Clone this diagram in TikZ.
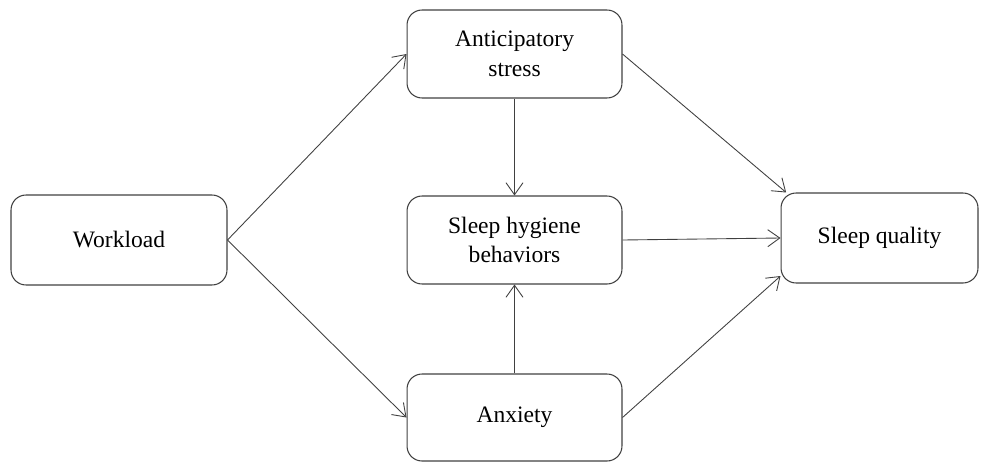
\documentclass[tikz,border=0pt]{standalone}
\usepackage{fontspec}
\setmainfont{Liberation Serif}
\usetikzlibrary{arrows.meta}
\begin{document}
\begin{tikzpicture}[x=0.02cm, y=-0.02cm,
  box/.style={shape=rectangle, rounded corners=0.3cm, draw=black!75, line width=0.6pt,
    minimum width=4.3cm, minimum height=1.76cm, align=center,
    font=\fontsize{13.4}{16.8}\selectfont},
  >={Straight Barb[length=2.4mm,width=3.4mm]}]
\useasboundingbox (0,0) rectangle (986,463);
\node (W) at (119,240) [box, minimum width=4.32cm, minimum height=1.8cm]{Workload};
\node (A) at (514.5,54) [box]{Anticipatory\\stress};
\node (H) at (514.5,240) [box]{Sleep hygiene\\behaviors};
\node (X) at (514.5,417.5) [box, minimum height=1.74cm]{Anxiety};
\node (Q) at (879.5,238) [box, minimum width=3.94cm, minimum height=1.8cm]{Sleep quality};
\draw [->,black!75,line width=0.5pt] (W.east) to (A.west);
\draw [->,black!75,line width=0.5pt] (W.east) to (X.west);
\draw [->,black!75,line width=0.5pt] (A) to (H);
\draw [->,black!75,line width=0.5pt] (X) to (H);
\draw [->,black!75,line width=0.5pt] (A.east) to (Q.154);
\draw [->,black!75,line width=0.5pt] (H.east) to (Q.west);
\draw [->,black!75,line width=0.5pt] (X.east) to (Q.201);
\end{tikzpicture}
\end{document}
